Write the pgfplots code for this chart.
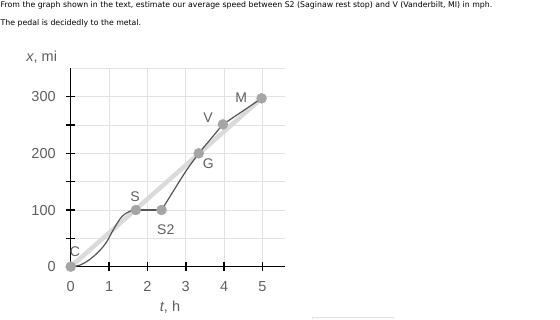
\documentclass[border=0pt]{standalone}
\usepackage{pgfplots}
\pgfplotsset{compat=1.18}
\usepackage{fontspec}
\setmainfont{Liberation Sans}
\newfontfamily\titlefont{DejaVu Sans}
\definecolor{gridc}{RGB}{226,226,226}
\definecolor{labc}{RGB}{95,95,95}
\definecolor{curvec}{RGB}{85,85,85}
\definecolor{avgc}{RGB}{218,218,218}
\definecolor{markc}{RGB}{165,165,165}
\begin{document}
\begin{tikzpicture}[x=1pt,y=1pt]
\path[use as bounding box] (0,0) rectangle (560,319);
\node[anchor=west,inner sep=0pt,font=\titlefont\fontsize{7.8}{9}\selectfont] at (0.5,314) {From the graph shown in the text, estimate our average speed between S2 (Saginaw rest stop) and V (Vanderbilt, MI) in mph.};
\node[anchor=west,inner sep=0pt,font=\titlefont\fontsize{7.8}{9}\selectfont] at (0.5,296) {The pedal is decidedly to the metal.};
\draw[gridc,line width=0.8pt] (312,0) -- (312,2) -- (393,2) -- (393,0);
\begin{axis}[
  at={(70.7pt,52.3pt)}, anchor=origin,
  scale only axis, width=214.3pt, height=198.4pt,
  xmin=0, xmax=5.59, ymin=0, ymax=350,
  axis lines=left, axis line style={black,line width=1.4pt,-},
  clip=false,
  xtick={0,1,2,3,4,5}, ytick={0,50,100,150,200,250,300},
  yticklabels={0,,100,,200,,300},
  grid=major, major grid style={gridc,line width=0.8pt},
  tick align=center, major tick length=9pt,
  every tick/.style={black,line width=1.6pt},
  tick label style={font=\fontsize{14.5}{16}\selectfont, text=labc},
  /pgf/number format/assume math mode=true,
  xticklabel style={anchor=center, yshift=-15pt},
  yticklabel style={anchor=east, xshift=-7pt},
]
\draw[gridc,line width=0.8pt] (axis cs:0,350) -- (axis cs:5.59,350);
\addplot[avgc, line width=4.5pt] coordinates {(0,0) (4.98,297)};
\addplot[curvec, line width=1.2pt, smooth, tension=0.6] coordinates {(0,0) (0.25,3) (0.5,13) (0.75,28) (0.94,44) (1.11,65) (1.33,88) (1.55,98) (1.70,100)};
\addplot[curvec, line width=1.2pt] coordinates {(1.70,100) (2.37,100)};
\addplot[curvec, line width=1.2pt, smooth, tension=0.5] coordinates {(2.37,100) (2.5,114) (3.0,168) (3.34,200)};
\addplot[curvec, line width=1.2pt] coordinates {(3.34,200) (3.97,251) (4.98,297)};
\addplot[only marks, mark=*, mark size=5pt, mark options={draw=markc, fill=markc}] coordinates {(0,0) (1.70,100) (2.37,100) (3.34,200) (3.97,251) (4.98,297)};
\node[text=labc,font=\fontsize{14}{16}\selectfont] at (axis cs:0.11,26) {C};
\node[text=labc,font=\fontsize{14}{16}\selectfont] at (axis cs:1.68,123) {S};
\node[text=labc,font=\fontsize{14}{16}\selectfont] at (axis cs:2.48,65) {S2};
\node[text=labc,font=\fontsize{14}{16}\selectfont] at (axis cs:3.59,182) {G};
\node[text=labc,font=\fontsize{14}{16}\selectfont] at (axis cs:3.58,263) {V};
\node[text=labc,font=\fontsize{14}{16}\selectfont] at (axis cs:4.45,299) {M};
\end{axis}
\node[text=labc,font=\fontsize{14.5}{16}\selectfont] at (41.7,262.3) {\textit{x}, mi};
\node[text=labc,font=\fontsize{14.5}{16}\selectfont] at (170,12.3) {\textit{t}, h};
\end{tikzpicture}
\end{document}
